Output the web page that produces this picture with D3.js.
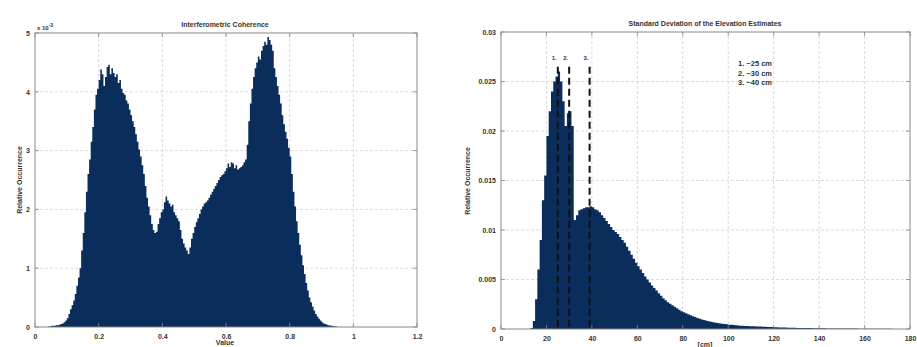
<!DOCTYPE html>
<html>
<head>
<meta charset="utf-8">
<script src="https://cdn.jsdelivr.net/npm/d3@7"></script>
<style>
  html, body { margin: 0; padding: 0; background: #fff; }
  svg { display: block; font-family: "Liberation Sans", Arial, sans-serif; }
</style>
</head>
<body>
<svg id="chart" width="917" height="347"></svg>
<script>
// ---------- Coherence histogram: bins of width 0.005 starting at 0, relative occurrence x 1e-3 ----------
const cohBinWidth = 0.005;
const cohValues = [
  0, 0, 0, 0, 0, 0, 0, 0, 0.01, 0.01, 0.02, 0.02, 0.02, 0.03, 0.03, 0.04, 0.05, 0.06, 0.08, 0.11,
  0.15, 0.22, 0.3, 0.37, 0.45, 0.56, 0.7, 0.84, 1.0, 1.3, 1.6, 1.95, 2.3, 2.6, 2.85, 3.15, 3.4, 3.7, 3.95, 4.05,
  4.2, 4.38, 4.3, 4.1, 4.25, 4.42, 4.46, 4.3, 4.4, 4.32, 4.25, 4.3, 4.15, 4.2, 4.05, 3.98, 3.95, 3.85, 3.8, 3.7,
  3.6, 3.5, 3.4, 3.28, 3.15, 3.02, 2.9, 2.75, 2.6, 2.4, 2.2, 2.05, 1.9, 1.75, 1.65, 1.6, 1.62, 1.75, 1.85, 1.95,
  2.0, 2.12, 2.22, 2.15, 2.1, 2.05, 2.08, 1.95, 1.9, 1.85, 1.8, 1.65, 1.5, 1.42, 1.35, 1.3, 1.24, 1.35, 1.5, 1.6,
  1.7, 1.78, 1.85, 1.92, 2.0, 2.05, 2.1, 2.12, 2.15, 2.2, 2.25, 2.3, 2.35, 2.4, 2.45, 2.5, 2.55, 2.58, 2.6, 2.65,
  2.7, 2.78, 2.72, 2.8, 2.78, 2.7, 2.75, 2.68, 2.7, 2.72, 2.75, 2.8, 2.85, 3.1, 3.5, 3.8, 4.05, 4.25, 4.4, 4.5,
  4.6, 4.55, 4.7, 4.78, 4.85, 4.8, 4.93, 4.88, 4.8, 4.7, 4.4, 4.25, 4.1, 3.95, 3.8, 3.6, 3.45, 3.32, 3.2, 3.05,
  2.9, 2.6, 2.3, 2.05, 1.8, 1.6, 1.4, 1.22, 1.05, 0.9, 0.75, 0.62, 0.5, 0.42, 0.35, 0.28, 0.22, 0.18, 0.14, 0.11,
  0.08, 0.06, 0.05, 0.04, 0.03, 0.025, 0.02, 0.015, 0.01, 0.01, 0, 0, 0, 0, 0, 0, 0, 0, 0, 0
];
const cohXTicks = [0, 0.2, 0.4, 0.6, 0.8, 1, 1.2];
const cohXTickLabels = ["0", "0.2", "0.4", "0.6", "0.8", "1", "1.2"];
const cohYTicks = [0, 1, 2, 3, 4, 5];

// ---------- Elevation std-dev histogram: 1 cm bins starting at 0, relative occurrence x 1e-3 ----------
const sdBinWidth = 1;
const sdValues = [
  0, 0, 0, 0, 0, 0, 0, 0, 0, 0,
  0, 0, 0, 0.1, 0.8, 3.0, 6.0, 9.0, 13.0, 15.5,
  19.5, 22.0, 24.0, 25.0, 25.5, 26.0, 25.0, 23.0, 20.5, 21.8,
  22.0, 20.5, 11.0, 11.5, 12.0, 12.1, 12.2, 12.3, 12.3, 12.4,
  12.3, 12.1, 12.0, 11.8, 11.5, 11.2, 10.9, 10.6, 10.3, 10.0,
  9.8, 9.6, 9.3, 9.0, 8.7, 8.3, 7.9, 7.5, 7.1, 6.7,
  6.35, 6.0, 5.65, 5.3, 5.0, 4.7, 4.4, 4.15, 3.9, 3.6,
  3.35, 3.1, 2.9, 2.7, 2.55, 2.4, 2.25, 2.1, 1.95, 1.8,
  1.7, 1.6, 1.5, 1.4, 1.3, 1.2, 1.12, 1.04, 0.97, 0.9,
  0.84, 0.78, 0.73, 0.68, 0.64, 0.6, 0.56, 0.53, 0.5, 0.47,
  0.44, 0.42, 0.4, 0.38, 0.36, 0.34, 0.32, 0.31, 0.3, 0.29,
  0.28, 0.27, 0.26, 0.25, 0.24, 0.23, 0.22, 0.21, 0.2, 0.19,
  0.18, 0.17, 0.16, 0.15, 0.15, 0.14, 0.13, 0.13, 0.12, 0.12,
  0.11, 0.11, 0.1, 0.1, 0.09, 0.09, 0.09, 0.08, 0.08, 0.08,
  0.07, 0.07, 0.07, 0.06, 0.06, 0.06, 0.06, 0.05, 0.05, 0.05,
  0.05, 0.05, 0.04, 0.04, 0.04, 0.04, 0.04, 0.03, 0.03, 0.03,
  0.03, 0.03, 0.03, 0.03, 0.02, 0.02, 0.02, 0.02, 0.02, 0.02,
  0.02, 0.02, 0.01, 0.01, 0.01, 0.01, 0.01, 0.01, 0.01, 0.01
];
const sdXTicks = [0, 20, 40, 60, 80, 100, 120, 140, 160, 180];
const sdYTicks = [0, 0.005, 0.01, 0.015, 0.02, 0.025, 0.03];
const sdYTickLabels = ["0", "0.005", "0.01", "0.015", "0.02", "0.025", "0.03"];

// Marked modes of the std-dev distribution
const modeLabels = ["1.", "2.", "3."];
const modePositions = [25, 30, 39];
const modeTop = 0.0265;
const legendLines = ["1. ~25 cm", "2. ~30 cm", "3. ~40 cm"];

const barColor = "#0b2d5b";
const gridColor = "#d2d2d2";
const frameColor = "#8c8683";
const textColor = "#333";

const svg = d3.select("#chart");

function drawGrid(g, x, y, xTicks, yTicks) {
  const [x0, x1] = x.range();
  const [y0, y1] = y.range();
  g.append("g").selectAll("line").data(xTicks.slice(1, -1)).join("line")
    .attr("x1", d => x(d)).attr("x2", d => x(d))
    .attr("y1", y0).attr("y2", y1)
    .attr("stroke", gridColor).attr("stroke-width", 0.8).attr("stroke-dasharray", "3,2");
  g.append("g").selectAll("line").data(yTicks.slice(1, -1)).join("line")
    .attr("x1", x0).attr("x2", x1)
    .attr("y1", d => y(d)).attr("y2", d => y(d))
    .attr("stroke", gridColor).attr("stroke-width", 0.8).attr("stroke-dasharray", "3,2");
}

function drawAxes(g, x, y, xTicks, xLabels, yTicks, yLabels) {
  const [x0, x1] = x.range();
  const [y0, y1] = y.range();
  const tl = 4;
  const bottom = d3.axisBottom(x).tickValues(xTicks).tickSize(0).tickPadding(7)
    .tickFormat((d, i) => xLabels[i]);
  const left = d3.axisLeft(y).tickValues(yTicks).tickSize(0).tickPadding(5)
    .tickFormat((d, i) => yLabels[i]);
  const gb = g.append("g").attr("transform", `translate(0,${y0})`).call(bottom);
  const gl = g.append("g").attr("transform", `translate(${x0},0)`).call(left);
  [gb, gl].forEach(a => {
    a.select(".domain").remove();
    a.selectAll("text").attr("fill", textColor).attr("font-size", 7).attr("font-weight", "bold");
  });
  // inward ticks on all four sides
  const tg = g.append("g").attr("stroke", frameColor).attr("stroke-width", 0.8);
  xTicks.forEach(d => {
    tg.append("line").attr("x1", x(d)).attr("x2", x(d)).attr("y1", y0).attr("y2", y0 - tl);
    tg.append("line").attr("x1", x(d)).attr("x2", x(d)).attr("y1", y1).attr("y2", y1 + tl);
  });
  yTicks.forEach(d => {
    tg.append("line").attr("x1", x0).attr("x2", x0 + tl).attr("y1", y(d)).attr("y2", y(d));
    tg.append("line").attr("x1", x1).attr("x2", x1 - tl).attr("y1", y(d)).attr("y2", y(d));
  });
  g.append("rect").attr("x", x0).attr("y", y1).attr("width", x1 - x0).attr("height", y0 - y1)
    .attr("fill", "none").attr("stroke", frameColor).attr("stroke-width", 1);
}

// Histogram drawn as one stepped area so adjacent bins share edges
function drawHistogram(g, x, y, values, binWidth) {
  const pts = values.map((v, i) => [i * binWidth, v]);
  pts.push([values.length * binWidth, values[values.length - 1]]);
  const area = d3.area()
    .x(d => x(d[0]))
    .y0(y(0))
    .y1(d => y(d[1]))
    .curve(d3.curveStepAfter);
  g.append("path").datum(pts).attr("d", area).attr("fill", barColor);
}

// ---------------- Left panel: Interferometric Coherence ----------------
{
  const g = svg.append("g");
  const x = d3.scaleLinear().domain([0, 1.2]).range([35, 417]);
  const y = d3.scaleLinear().domain([0, 5]).range([327, 33]);
  drawGrid(g, x, y, cohXTicks, cohYTicks);
  drawHistogram(g, x, y, cohValues, cohBinWidth);
  drawAxes(g, x, y, cohXTicks, cohXTickLabels, cohYTicks, cohYTicks.map(String));

  g.append("text").attr("x", 225).attr("y", 27).attr("text-anchor", "middle")
    .attr("font-size", 7).attr("font-weight", "bold").attr("fill", textColor)
    .text("Interferometric Coherence");
  const ex = g.append("text").attr("x", 37).attr("y", 30)
    .attr("font-size", 6).attr("font-weight", "bold").attr("fill", textColor);
  ex.append("tspan").text("x 10");
  ex.append("tspan").attr("dy", -3).attr("font-size", 5).text("-3");
  g.append("text").attr("x", 225).attr("y", 345).attr("text-anchor", "middle")
    .attr("font-size", 7).attr("font-weight", "bold").attr("fill", textColor).text("Value");
  g.append("text").attr("transform", "translate(22,180) rotate(-90)").attr("text-anchor", "middle")
    .attr("font-size", 7).attr("font-weight", "bold").attr("fill", textColor).text("Relative Occurrence");
}

// ---------------- Right panel: Standard Deviation of the Elevation Estimates ----------------
{
  const g = svg.append("g");
  const x = d3.scaleLinear().domain([0, 180]).range([501, 910]);
  const y = d3.scaleLinear().domain([0, 0.03]).range([329, 32]);
  drawGrid(g, x, y, sdXTicks, sdYTicks);
  drawHistogram(g, x, y, sdValues.map(v => v / 1000), sdBinWidth);
  drawAxes(g, x, y, sdXTicks, sdXTicks.map(String), sdYTicks, sdYTickLabels);

  // dashed mode markers
  g.append("g").selectAll("line").data(modePositions).join("line")
    .attr("x1", d => x(d)).attr("x2", d => x(d))
    .attr("y1", y(modeTop)).attr("y2", y(0))
    .attr("stroke", "#111").attr("stroke-width", 2).attr("stroke-dasharray", "7,4");
  g.append("g").selectAll("text").data(modePositions).join("text")
    .attr("x", d => x(d) - 6).attr("y", y(modeTop) - 7)
    .attr("font-size", 6).attr("font-weight", "bold").attr("fill", textColor)
    .text((d, i) => modeLabels[i]);

  g.append("g").selectAll("text").data(legendLines).join("text")
    .attr("x", 738).attr("y", (d, i) => 66 + i * 9.5)
    .attr("font-size", 7.5).attr("font-weight", "bold").attr("fill", textColor)
    .text(d => d);

  g.append("text").attr("x", 705).attr("y", 26).attr("text-anchor", "middle")
    .attr("font-size", 7).attr("font-weight", "bold").attr("fill", textColor)
    .text("Standard Deviation of the Elevation Estimates");
  g.append("text").attr("x", 705).attr("y", 347).attr("text-anchor", "middle")
    .attr("font-size", 7).attr("font-weight", "bold").attr("fill", textColor).text("[cm]");
  g.append("text").attr("transform", "translate(470,181) rotate(-90)").attr("text-anchor", "middle")
    .attr("font-size", 7).attr("font-weight", "bold").attr("fill", textColor).text("Relative Occurrence");
}
</script>
</body>
</html>
